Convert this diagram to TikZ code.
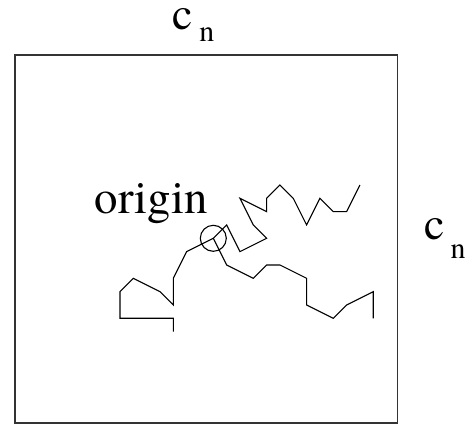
\documentclass[tikz,border=0pt]{standalone}
\usepackage{fontspec}
\newfontfamily\tnr{TeX Gyre Termes}
\newcommand{\bigf}{\tnr\fontsize{46}{50}\selectfont}
\newcommand{\subf}{\tnr\fontsize{30}{32}\selectfont}
\tikzset{
  frame/.style={draw=black!80, line width=1.8bp},
  walk/.style={draw=black, line width=1.1bp, line join=miter},
  lbl/.style={anchor=base west, inner sep=0pt, outer sep=0pt, font=\tnr},
}
\begin{document}
\begin{tikzpicture}[x=1bp, y=-1bp]
\useasboundingbox (0,0) rectangle (471,428);
\draw[frame] (15,55) rectangle (397.5,423);
\node[lbl] (top) at (172.3,29) {\bigf c\hspace{6.8bp}\raisebox{-12.7bp}{\subf n}};
\node[lbl] (right) at (424,239.3) {\bigf c\hspace{6.3bp}\raisebox{-19bp}{\subf n}};
\node[lbl] (lab) at (94.7,213.3) {\tnr\fontsize{47}{50}\selectfont origin};
\node[circle, draw, line width=1.1bp, minimum size=26bp, inner sep=0pt] (o) at (213.3,238.3) {};
\begin{scope}[shift={(213.3,238.3)}, x=13.33bp, y=13.33bp]
\draw[walk] (0,0) -- (1,1) -- (2,-1) -- (4,0) -- (3,1) -- (2,3) -- (4,2) -- (4,3)
  -- (5,4) -- (6,3) -- (7,1) -- (8,3) -- (9,2) -- (10,2) -- (11,4);
\draw[walk] (0,0) -- (1,-2) -- (3,-3) -- (4,-2) -- (5,-2) -- (7,-3) -- (7,-5)
  -- (9,-6) -- (10,-5) -- (12,-4) -- (12,-6);
\draw[walk] (0,0) -- (-2,-1) -- (-3,-3) -- (-3,-5) -- (-4,-4) -- (-6,-3) -- (-7,-4)
  -- (-7,-6) -- (-3,-6) -- (-3,-7);
\end{scope}
\end{tikzpicture}
\end{document}
